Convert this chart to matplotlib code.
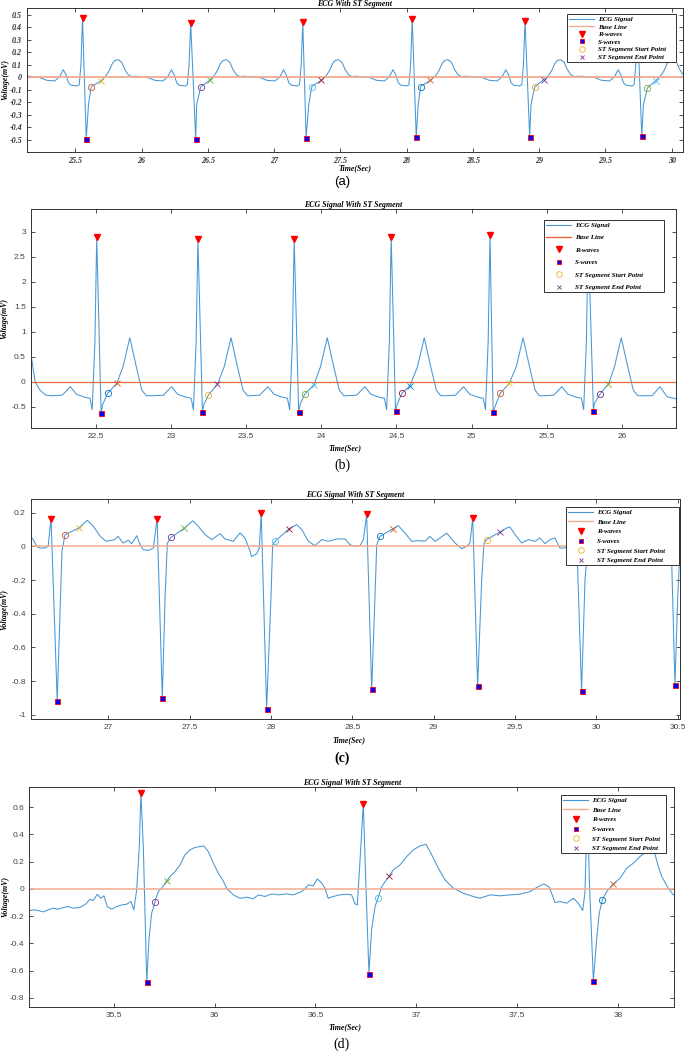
import numpy as np
import matplotlib.pyplot as plt
from matplotlib.lines import Line2D
from matplotlib.ticker import FixedLocator, FuncFormatter

plt.rcParams['axes.unicode_minus'] = False

# MATLAB default colour order (ST markers of each beat cycle through it)
MATLAB = ['#0072BD', '#D95319', '#EDB120', '#7E2F8E', '#77AC30', '#4DBEEE', '#A2142F']
ECG_COL = '#4797d4'

# ---------------- panel (a) ----------------
a_r_t = [25.555, 26.371, 27.217, 28.043, 28.894, 29.742]
a_r_v = [0.473, 0.438, 0.44, 0.47, 0.452, 0.45]
a_s_t = [25.583, 26.409, 27.242, 28.073, 28.929, 29.775]
a_s_v = [-0.494, -0.497, -0.485, -0.48, -0.48, -0.473]
a_st0_t = [25.62, 26.447, 27.285, 28.106, 28.967, 29.818]
a_st0_v = [-0.077, -0.077, -0.075, -0.075, -0.077, -0.085]
a_st1_t = [25.695, 26.515, 27.356, 28.18, 29.035, 29.88]
a_st1_v = [-0.029, -0.025, -0.025, -0.025, -0.019, -0.027]
a_st0_col = [1, 3, 5, 0, 2, 4]
a_st1_col = [2, 4, 6, 1, 3, 5]
# shape of one beat around its R peak (offset from R, value)
a_beat_dt = [-0.38, -0.33, -0.27, -0.21, -0.175, -0.145, -0.125, -0.105, -0.085, -0.04, -0.025, -0.012,
             0.045, 0.175, 0.2, 0.225, 0.245, 0.27, 0.295, 0.32, 0.345, 0.37, 0.40]
a_beat_v = [0.005, 0.0, -0.025, -0.03, 0.0, 0.06, 0.02, -0.045, -0.065, -0.07, -0.06, 0.1,
            -0.22, 0.01, 0.05, 0.11, 0.135, 0.14, 0.12, 0.06, 0.02, 0.005, 0.008]
a_lead_t, a_lead_v = [25.13], [0.01]

# ---------------- panel (b) ----------------
b_r_t = [22.507, 23.18, 23.82, 24.465, 25.122, 25.775]
b_r_v = [2.89, 2.85, 2.85, 2.9, 2.93, 2.9]
b_s_t = [22.536, 23.21, 23.85, 24.494, 25.143, 25.81]
b_s_v = [-0.62, -0.607, -0.6, -0.58, -0.607, -0.587]
b_st0_t = [22.58, 23.25, 23.89, 24.536, 25.19, 25.853]
b_st0_v = [-0.233, -0.267, -0.247, -0.233, -0.233, -0.247]
b_st1_t = [22.64, 23.31, 23.95, 24.59, 25.25, 25.91]
b_st1_v = [-0.033, -0.047, -0.067, -0.08, -0.033, -0.047]
b_st0_col = [0, 2, 4, 6, 1, 3]
b_st1_col = [1, 3, 5, 0, 2, 4]
b_beat_dt = [-0.30, -0.23, -0.175, -0.135, -0.08, -0.045, -0.03, -0.012,
             0.04, 0.175, 0.22, 0.263, 0.30, 0.33]
b_beat_v = [-0.28, -0.27, -0.1, -0.25, -0.31, -0.33, -0.56, 0.8,
            -0.45, 0.3, 0.88, 0.3, -0.17, -0.28]
b_lead_t, b_lead_v = [22.06, 22.097, 22.13, 22.17], [0.75, 0.0, -0.17, -0.27]
b_tail_t, b_tail_v = [26.2, 26.252, 26.3, 26.34, 26.37], [-0.28, -0.1, -0.3, -0.33, -0.35]

# ---------------- panel (c) ----------------
c_r_t = [26.648, 27.30, 27.94, 28.588, 29.24, 29.875, 30.455]
c_r_v = [0.164, 0.164, 0.196, 0.19, 0.168, 0.17, 0.2]
c_s_t = [26.686, 27.332, 27.973, 28.619, 29.27, 29.909, 30.483]
c_s_v = [-0.917, -0.901, -0.962, -0.848, -0.828, -0.858, -0.822]
c_st0_t = [26.734, 27.385, 28.025, 28.67, 29.325, 29.96]
c_st0_v = [0.069, 0.053, 0.03, 0.059, 0.04, 0.04]
c_st1_t = [26.818, 27.467, 28.109, 28.75, 29.407, 30.04]
c_st1_v = [0.109, 0.107, 0.103, 0.105, 0.085, 0.09]
c_st0_col = [1, 3, 5, 0, 2, 4]
c_st1_col = [2, 4, 6, 1, 3, 5]
c_bg_t = [26.52, 26.539, 26.56, 26.58, 26.61, 26.63, 26.703, 26.715, 26.871, 26.908, 26.95, 26.986,
          27.04, 27.06, 27.09, 27.123, 27.144, 27.175, 27.195, 27.215, 27.246, 27.277, 27.349, 27.363,
          27.519, 27.553, 27.594, 27.636, 27.687, 27.717, 27.768, 27.81, 27.84, 27.871, 27.88, 27.912,
          27.928, 28.0, 28.01, 28.158, 28.189, 28.23, 28.27, 28.312, 28.352, 28.404, 28.455, 28.486,
          28.516, 28.547, 28.568, 28.639, 28.65, 28.782, 28.824, 28.865, 28.906, 28.946, 28.977, 29.008,
          29.039, 29.08, 29.131, 29.172, 29.203, 29.223, 29.295, 29.309, 29.449, 29.469, 29.5, 29.541,
          29.582, 29.623, 29.653, 29.684, 29.714, 29.745, 29.776, 29.80, 29.84, 29.93, 29.95, 30.1,
          30.15, 30.2, 30.3, 30.4, 30.43, 30.5, 30.515]
c_bg_v = [0.059, 0.04, 0.0, -0.01, -0.01, 0.0, -0.4, -0.03, 0.155, 0.119, 0.06, 0.03,
          0.04, 0.06, 0.02, 0.036, 0.016, 0.063, 0.01, -0.02, -0.024, -0.01, -0.3, 0.02,
          0.152, 0.119, 0.07, 0.04, 0.075, 0.044, 0.03, 0.08, 0.05, -0.026, -0.06, -0.044,
          -0.01, -0.3, 0.01, 0.129, 0.1, 0.03, 0.004, 0.04, 0.03, 0.044, 0.044, 0.01,
          0.0, 0.004, 0.04, -0.3, 0.01, 0.123, 0.079, 0.03, 0.034, 0.03, 0.059, 0.03,
          0.05, 0.079, 0.02, -0.014, 0.0, 0.02, -0.2, 0.02, 0.109, 0.115, 0.07, 0.02,
          0.04, 0.03, 0.05, 0.016, 0.04, 0.05, -0.01, -0.01, 0.0, -0.2, 0.03, 0.12,
          0.06, 0.03, 0.04, 0.0, 0.01, -0.3, 0.0]

# ---------------- panel (d) ----------------
d_r_t = [35.635, 36.737, 37.848]
d_r_v = [0.703, 0.625, 0.65]
d_s_t = [35.664, 36.765, 37.877]
d_s_v = [-0.684, -0.623, -0.679]
d_st0_t = [35.705, 36.811, 37.921]
d_st0_v = [-0.093, -0.064, -0.081]
d_st1_t = [35.763, 36.864, 37.975]
d_st1_v = [0.059, 0.093, 0.035]
d_st0_col = [3, 5, 0]
d_st1_col = [4, 6, 1]
d_bg_t = [35.082, 35.102, 35.126, 35.151, 35.176, 35.2, 35.225, 35.25, 35.274, 35.3, 35.333, 35.363,
          35.383, 35.399, 35.419, 35.436, 35.452, 35.468, 35.49, 35.515, 35.54, 35.564, 35.586, 35.6,
          35.614, 35.627, 35.647, 35.675, 35.688, 35.721, 35.738, 35.779, 35.804, 35.829, 35.853, 35.878,
          35.903, 35.928, 35.947, 35.969, 35.994, 36.019, 36.04, 36.06, 36.093, 36.126, 36.159, 36.192,
          36.217, 36.25, 36.283, 36.316, 36.357, 36.39, 36.432, 36.465, 36.489, 36.509, 36.531, 36.547,
          36.563, 36.588, 36.621, 36.655, 36.679, 36.696, 36.707, 36.72, 36.749, 36.778, 36.795, 36.828,
          36.886, 36.919, 36.952, 36.985, 37.018, 37.048, 37.076, 37.109, 37.142, 37.183, 37.232, 37.282,
          37.315, 37.365, 37.414, 37.464, 37.513, 37.563, 37.604, 37.632, 37.659, 37.687, 37.712, 37.745,
          37.778, 37.802, 37.824, 37.835, 37.857, 37.893, 37.906, 37.943, 38.009, 38.042, 38.075, 38.108,
          38.141, 38.174, 38.199, 38.216, 38.248, 38.273, 38.29]
d_bg_v = [-0.162, -0.154, -0.159, -0.169, -0.154, -0.142, -0.149, -0.137, -0.13, -0.142, -0.137, -0.11,
          -0.076, -0.086, -0.039, -0.069, -0.051, -0.13, -0.149, -0.13, -0.118, -0.113, -0.093, -0.154,
          -0.007, 0.31, 0.31, -0.37, -0.18, -0.02, 0.005, 0.09, 0.127, 0.176, 0.25, 0.287,
          0.304, 0.311, 0.316, 0.274, 0.189, 0.115, 0.066, 0.005, -0.044, -0.069, -0.061, -0.073,
          -0.044, -0.056, -0.037, -0.044, -0.037, -0.044, -0.02, 0.029, 0.022, 0.073, 0.042, 0.005,
          -0.069, -0.056, -0.044, -0.039, -0.044, -0.11, -0.118, 0.189, 0.066, -0.301, -0.13, 0.017,
          0.14, 0.176, 0.238, 0.287, 0.316, 0.328, 0.25, 0.152, 0.066, 0.005, -0.032, -0.056,
          -0.069, -0.044, -0.051, -0.044, -0.039, -0.02, 0.017, 0.037, 0.012, -0.1, -0.093, -0.105,
          -0.069, -0.105, -0.159, -0.03, 0.066, -0.375, -0.179, -0.02, 0.078, 0.152, 0.189, 0.238,
          0.274, 0.299, 0.164, 0.09, 0.005, -0.044, -0.05]

# axis ticks
a_xticks = [25.5, 26, 26.5, 27, 27.5, 28, 28.5, 29, 29.5, 30]
a_yticks = [-0.5, -0.4, -0.3, -0.2, -0.1, 0, 0.1, 0.2, 0.3, 0.4, 0.5]
b_xticks = [22.5, 23, 23.5, 24, 24.5, 25, 25.5, 26]
b_yticks = [-0.5, 0, 0.5, 1, 1.5, 2, 2.5, 3]
c_xticks = [27, 27.5, 28, 28.5, 29, 29.5, 30, 30.5]
c_yticks = [-1, -0.8, -0.6, -0.4, -0.2, 0, 0.2]
d_xticks = [35.5, 36, 36.5, 37, 37.5, 38]
d_yticks = [-0.8, -0.6, -0.4, -0.2, 0, 0.2, 0.4, 0.6]

SERIF_BI = dict(family='Liberation Serif', style='italic', weight='bold')


def build_trace(pt_t, pt_v, beat_r=None, beat_dt=(), beat_v=()):
    t = list(pt_t)
    v = list(pt_v)
    assert len(t) == len(v)
    if beat_r is not None:
        for rt in beat_r:
            t += [rt + d for d in beat_dt]
            v += list(beat_v)
    t = np.array(t)
    v = np.array(v)
    order = np.argsort(t)
    return t[order], v[order]


def fmt(x, pos):
    s = f'{x:.2f}'.rstrip('0').rstrip('.')
    return '0' if s in ('-0', '') else s


def draw(ax, t, v, r_t, r_v, s_t, s_v, st0_t, st0_v, st1_t, st1_v, col0, col1, base_col, base_lw):
    ax.plot(t, v, color=ECG_COL, lw=0.75, zorder=2)
    ax.axhline(0, color=base_col, lw=base_lw, zorder=2.5)
    for i in range(len(st0_t)):
        ax.plot(st0_t[i], st0_v[i], 'o', mfc='none', mec=MATLAB[col0[i]], ms=4.5, mew=0.6, zorder=3)
        ax.plot(st1_t[i], st1_v[i], 'x', color=MATLAB[col1[i]], ms=4, mew=0.6, zorder=3)
    ax.plot(r_t, r_v, 'v', color='#ff0000', ms=4.8, ls='none', zorder=4)
    ax.plot(s_t, s_v, 's', mfc='#0000ff', mec='#ff0000', ms=3.6, mew=0.6, ls='none', zorder=4)


def style(ax, xl, yl, xt, yt, serif_ticks):
    ax.set_xlim(*xl)
    ax.set_ylim(*yl)
    ax.xaxis.set_major_locator(FixedLocator(xt))
    ax.yaxis.set_major_locator(FixedLocator(yt))
    ax.xaxis.set_major_formatter(FuncFormatter(fmt))
    ax.yaxis.set_major_formatter(FuncFormatter(fmt))
    ax.tick_params(direction='in', top=True, right=True, length=3, width=0.6, pad=3.5,
                   colors='#333333', labelsize=6)
    for sp in ax.spines.values():
        sp.set_linewidth(0.7)
        sp.set_color('#333333')
    if serif_ticks:
        for lab in ax.get_xticklabels() + ax.get_yticklabels():
            lab.set_fontfamily('Liberation Serif')
            lab.set_fontstyle('italic')
            lab.set_fontweight('bold')
            lab.set_fontsize(5.8)
    else:
        for lab in ax.get_xticklabels() + ax.get_yticklabels():
            lab.set_fontfamily('Liberation Sans')
            lab.set_color('#444444')


def legend(fig, x0, ytop, w, spacing, base_col, fs=5):
    handles = [
        Line2D([], [], color=ECG_COL, lw=0.8),
        Line2D([], [], color=base_col, lw=1.0),
        Line2D([], [], marker='v', color='#ff0000', ls='none', ms=4),
        Line2D([], [], marker='s', mfc='#0000ff', mec='#ff0000', ls='none', ms=3.2, mew=0.6),
        Line2D([], [], marker='o', mfc='none', mec=MATLAB[2], ls='none', ms=4, mew=0.6),
        Line2D([], [], marker='x', color=MATLAB[3], ls='none', ms=3.5, mew=0.6),
    ]
    labels = ['ECG Signal', 'Base Line', 'R-waves', 'S-waves',
              'ST Segment Start Point', 'ST Segment End Point']
    leg = fig.legend(handles, labels, loc='upper left', bbox_to_anchor=(x0, ytop, w, 0),
                     bbox_transform=fig.transFigure, mode='expand', borderaxespad=0,
                     prop=dict(size=fs, **SERIF_BI), labelspacing=spacing, borderpad=0.3,
                     handlelength=3.6, handletextpad=0.6, fancybox=False, framealpha=1,
                     edgecolor='#333333')
    leg.get_frame().set_linewidth(0.7)
    return leg


W, H = 685, 1053
fig = plt.figure(figsize=(W / 100, H / 100), dpi=100)


def rect(l, r, t, b):
    return [l / W, 1 - b / H, (r - l) / W, (b - t) / H]


ax_a = fig.add_axes(rect(27, 683, 8, 152))
ax_b = fig.add_axes(rect(30.7, 676, 209.3, 427.7))
ax_c = fig.add_axes(rect(30.7, 680, 499, 719.3))
ax_d = fig.add_axes(rect(29.3, 674.3, 786.7, 1006.7))

BASE_LIGHT = '#f3ab8f'
BASE_DARK = '#e4683a'

t, v = build_trace(a_lead_t + a_r_t + a_s_t + a_st0_t + a_st1_t,
                   a_lead_v + a_r_v + a_s_v + a_st0_v + a_st1_v, a_r_t, a_beat_dt, a_beat_v)
draw(ax_a, t, v, a_r_t, a_r_v, a_s_t, a_s_v, a_st0_t, a_st0_v, a_st1_t, a_st1_v,
     a_st0_col, a_st1_col, BASE_LIGHT, 1.3)
style(ax_a, (25.136, 30.086), (-0.6, 0.555), a_xticks, a_yticks, True)

t, v = build_trace(b_lead_t + b_tail_t + b_r_t + b_s_t + b_st0_t + b_st1_t,
                   b_lead_v + b_tail_v + b_r_v + b_s_v + b_st0_v + b_st1_v, b_r_t, b_beat_dt, b_beat_v)
draw(ax_b, t, v, b_r_t, b_r_v, b_s_t, b_s_v, b_st0_t, b_st0_v, b_st1_t, b_st1_v,
     b_st0_col, b_st1_col, BASE_DARK, 0.9)
style(ax_b, (22.068, 26.359), (-0.92, 3.45), b_xticks, b_yticks, False)

t, v = build_trace(c_bg_t + c_r_t + c_s_t + c_st0_t + c_st1_t,
                   c_bg_v + c_r_v + c_s_v + c_st0_v + c_st1_v)
draw(ax_c, t, v, c_r_t, c_r_v, c_s_t, c_s_v, c_st0_t, c_st0_v, c_st1_t, c_st1_v,
     c_st0_col, c_st1_col, BASE_LIGHT, 1.1)
style(ax_c, (26.523, 30.514), (-1.026, 0.281), c_xticks, c_yticks, False)

t, v = build_trace(d_bg_t + d_r_t + d_s_t + d_st0_t + d_st1_t,
                   d_bg_v + d_r_v + d_s_v + d_st0_v + d_st1_v)
draw(ax_d, t, v, d_r_t, d_r_v, d_s_t, d_s_v, d_st0_t, d_st0_v, d_st1_t, d_st1_v,
     d_st0_col, d_st1_col, BASE_LIGHT, 1.1)
style(ax_d, (35.082, 38.278), (-0.866, 0.751), d_xticks, d_yticks, False)

# titles, axis labels
titles = ['ECG With ST Segment', 'ECG Signal With ST Segment',
          'ECG Signal With ST Segment', 'ECG Signal With ST Segment']
for ax, ttl in zip([ax_a, ax_b, ax_c, ax_d], titles):
    ax.set_title(ttl, fontsize=5.7, pad=1.5, **SERIF_BI)
    ax.set_xlabel('Time(Sec)', fontsize=5.7, **SERIF_BI)
    ax.set_ylabel('Voltage(mV)', fontsize=5.7, **SERIF_BI)

ax_a.xaxis.set_label_coords(0.5, -0.083)
ax_a.yaxis.set_label_coords(-0.027, 0.5)
ax_b.xaxis.set_label_coords(0.487, -0.075)
ax_b.yaxis.set_label_coords(-0.034, 0.5)
ax_c.xaxis.set_label_coords(0.49, -0.076)
ax_c.yaxis.set_label_coords(-0.034, 0.5)
ax_d.xaxis.set_label_coords(0.49, -0.074)
ax_d.yaxis.set_label_coords(-0.031, 0.5)

# legends
legend(fig, 567 / W, 1 - 14 / H, 109 / W, 0.25, BASE_LIGHT)
legend(fig, 544 / W, 1 - 220 / H, 120 / W, 0.95, BASE_DARK)
legend(fig, 566 / W, 1 - 507 / H, 113 / W, 0.55, BASE_LIGHT)
legend(fig, 561 / W, 1 - 795 / H, 105 / W, 0.55, BASE_LIGHT)

# panel captions
fig.text(342 / W, 1 - 182 / H, '(a)', ha='center', va='center', fontsize=9.5, family='Liberation Sans')
fig.text(342 / W, 1 - 465 / H, '(b)', ha='center', va='center', fontsize=10, family='Liberation Serif')
fig.text(342 / W, 1 - 758 / H, '(c)', ha='center', va='center', fontsize=10, family='Liberation Serif',
         weight='bold')
fig.text(342 / W, 1 - 1044 / H, '(d)', ha='center', va='center', fontsize=10, family='Liberation Serif')

fig.savefig('out.png', dpi=100)
